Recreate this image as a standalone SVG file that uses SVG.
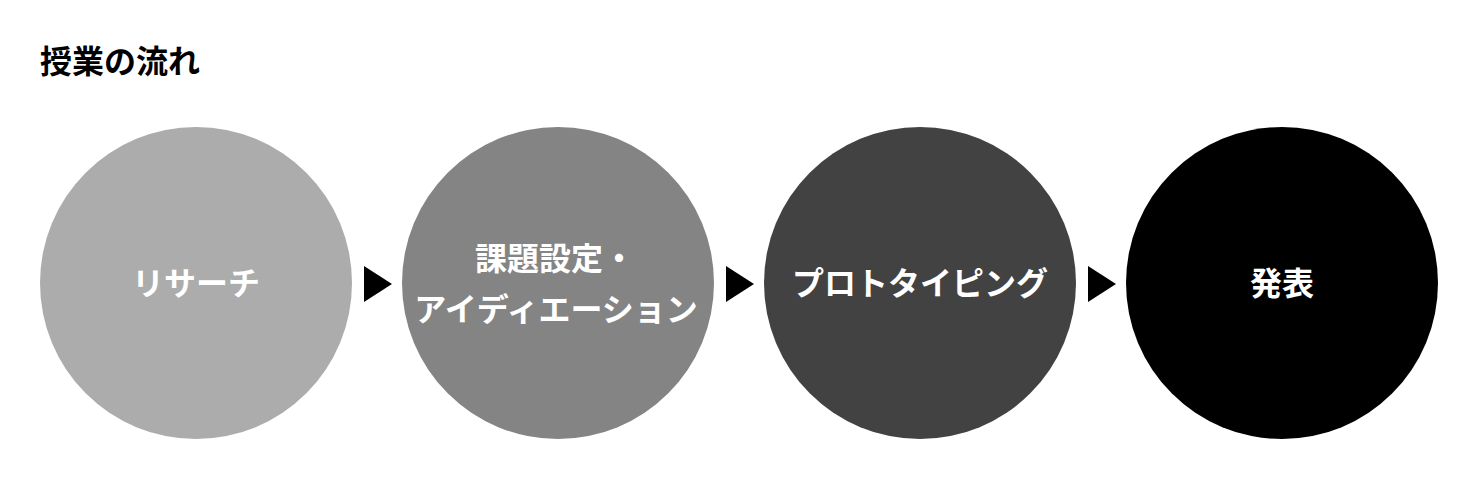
<svg xmlns="http://www.w3.org/2000/svg" width="1480" height="480" viewBox="0 0 1480 480">
<style>
text{font-family:"Noto Sans CJK JP","Noto Sans CJK SC",sans-serif;font-weight:700;}
.t{font-size:32px;fill:#000;}
.l{font-size:32px;fill:#fff;text-anchor:middle;dominant-baseline:central;}
.a{fill:#000;}
</style>
<rect width="1480" height="480" fill="#fff"/>
<text class="t" x="40" y="59" dominant-baseline="central">授業の流れ</text>
<g id="n1"><circle cx="196" cy="283" r="156" fill="#acacac"/><text class="l" x="196" y="281">リサーチ</text></g>
<g id="n2"><circle cx="558" cy="283" r="156" fill="#848484"/><text class="l" x="555" y="255.5">課題設定・</text><text class="l" x="556" y="307">アイディエーション</text></g>
<g id="n3"><circle cx="920" cy="283" r="156" fill="#424242"/><text class="l" x="920" y="281">プロトタイピング</text></g>
<g id="n4"><circle cx="1282" cy="283" r="156" fill="#000"/><text class="l" x="1282" y="281">発表</text></g>
<g id="connectors">
<polygon class="a" points="364,266 392,284 364,302"/>
<polygon class="a" points="726,266 754,284 726,302"/>
<polygon class="a" points="1088,266 1116,284 1088,302"/>
</g>
</svg>
